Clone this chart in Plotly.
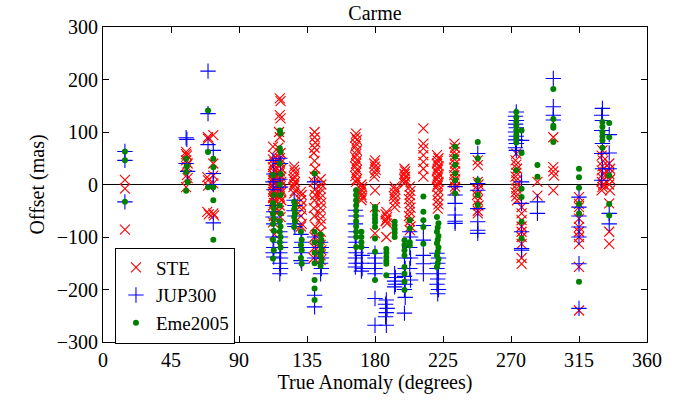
import plotly.graph_objects as go

# STE: true anomaly (deg) and offset (mas)
ste_x = [
    14.5, 14.5, 14.5,
    55, 55, 55.5, 55, 56, 55, 55.5, 56, 55,
    69.5, 69.5, 69, 69.5, 69.5, 69, 70, 73, 73, 73, 73, 73.5, 73,
    112.5, 113, 112.5, 113.5, 113, 112.5, 114, 113, 112.5, 113.5, 113, 112.5, 114, 113, 112.5, 113.5,
    113, 112.5, 114, 113, 112.5, 113.5, 113, 112.5, 114, 113, 112.5, 113.5,
    117, 117.5, 117, 117.5, 116.5, 117, 116, 117.5, 117, 116.5, 117, 118, 117, 116.5, 117.5, 117,
    118, 116.5, 117, 117.5, 118, 116.5, 117, 118, 117, 116.5, 117.5,
    126.5, 126.5, 127, 126.5, 126, 127, 126.5, 126, 127, 126.5,
    131, 131.5, 131, 131, 131.5, 131, 131.5, 131,
    140, 140, 140.5, 140, 139.5, 140, 140.5, 140, 139.5, 140, 140.5, 140, 139.5, 140, 140.5, 140, 140, 139.5,
    144, 144.5, 144, 143.5, 144, 144.5, 144, 143.5, 144, 144.5, 144, 143.5, 144, 144.5, 144, 144,
    167.5, 167, 168, 167.5, 167, 168, 167.5, 167, 168, 167.5, 167, 168, 167.5, 167, 168, 167.5,
    171, 171.5, 171, 170.5, 171, 171.5, 171,
    180, 179.5, 180, 180.5, 180, 179.5, 180, 180, 180,
    187.5, 187, 188, 187.5, 187, 188, 187.5,
    193, 193.5, 193, 192.5, 193, 193.5, 193,
    199.5, 200, 199.5, 200, 199.5, 200, 199.5,
    203, 203.5, 203, 202.5, 203, 203.5, 203, 202.5, 203, 203.5, 203,
    212, 212, 212, 212, 212, 212, 212,
    221, 222, 221.5, 221, 222, 221.5, 221, 222, 221.5, 221, 222, 221.5, 221, 222, 221.5, 221.5, 222, 221.5,
    232.5, 233, 232.5, 233, 232.5, 233, 232.5, 233, 232.5, 233, 232.5, 233, 232.5,
    248, 248, 248, 248.5, 248, 247.5, 248, 248.5, 248, 248,
    273.5, 273, 273.5, 274, 273.5, 273, 273.5, 274, 273.5, 273, 273.5, 274,
    277, 277, 277, 277, 277, 277, 277, 277, 277,
    287.5, 287.5,
    298, 298, 298, 298.5, 298,
    315, 315, 315, 315, 315, 315, 315, 315, 315, 315,
    330.5, 330, 331, 330.5, 330, 331, 330.5, 330, 331, 330.5, 330,
    335, 335.5, 335, 335.5, 335, 335.5, 335, 335, 335,
]
ste_y = [
    9, -8, -86,
    62, 58, 55, 46, 40, 35, 18, 12, -5,
    90, 87, 14, -2, 8, -52, -57, 94, 40, 17, 2, -59, -55,
    72, 55, 48, 42, 38, 33, 28, 25, 20, 15, 12, 8, 5, 2, -2, -6,
    -10, -14, -18, -22, -26, -30, -35, -40, -50, -60, -72, -95,
    164, 159, 132, 126, 100, 90, 70, 60, 50, 45, 40, 30, 25, 20, 15, 10,
    5, 0, -5, -10, -15, -20, -25, -30, -40, -50, -62,
    34, 28, 22, 15, 10, 5, 0, -5, -12, -17,
    -14, -20, -30, -40, -48, -60, -75, -80,
    100, 90, 80, 70, 60, 45, 30, 15, 5, -10, -20, -30, -45, -60, -80, -100, -120, -140,
    10, 0, -8, -16, -25, -35, -45, -55, -65, -75, -90, -105, -115, -125, -135, -144,
    97, 90, 85, 78, 72, 65, 58, 52, 46, 40, 34, 28, 22, 16, 10, 5,
    0, -5, -10, -15, -20, -25, -30,
    46, 40, 34, 28, 22, 15, -11, -43, -93,
    -52, -57, -62, -67, -70, -74, -100,
    -4, -10, -16, -22, -28, -35, -43,
    30, 25, 20, 15, 10, 5, 2,
    -4, -12, -20, -28, -36, -44, -52, -60, -70, -80, -87,
    107, 78, 69, 56, 43, 30, 15,
    56, 50, 45, 40, 35, 30, 25, 20, 15, 10, 5, 0, -4, -11, -20, -30, -38, -46,
    78, 70, 62, 55, 48, 40, 32, 25, 18, 10, 4, -4, -11,
    46, 37, 5, 0, -10, -20, -30, -40, -50, -55,
    59, 46, 38, 30, 22, 15, 8, 0, -8, -15, -22, -30,
    -43, -55, -68, -80, -90, -100, -113, -140, -151,
    5, -21,
    90, 33, 25, 17, -11,
    -24, -37, -43, -65, -81, -90, -100, -113, -157, -240,
    65, 55, 45, 35, 27, 20, 12, 5, 0, -5, -11,
    40, 30, 20, 10, 0, -11, -36, -90, -113,
]

# JUP300
jup_x = [
    14.5, 14.5, 14.5,
    55, 55.5, 55, 56,
    69.5, 69.5, 69.5, 73, 73, 73, 73,
    112.5, 113, 112.5, 113, 112.5, 113, 112.5, 113, 112.5, 113, 112.5, 113,
    117, 117.5, 117, 117.5, 117, 117.5, 117, 117.5, 117, 117.5, 117, 117.5, 117,
    126.5, 127, 126.5, 127, 126.5, 127,
    131, 131.5, 131, 131.5, 131, 131.5,
    140, 140, 140.5, 140, 140, 140,
    144, 144.5, 144, 144.5, 144, 144.5, 144,
    167, 167.5, 167, 167.5, 167, 167.5, 167, 167.5, 167, 167.5, 167,
    171, 171.5, 171, 171.5, 171,
    180, 180, 180, 180, 180, 180, 180,
    187.5, 187, 188, 187.5, 187, 187.5,
    193, 193.5, 193, 193.5, 193,
    199.5, 200, 199.5, 200, 199.5, 200, 199.5,
    203, 203.5, 203, 203.5, 203, 203.5,
    212, 212, 212, 212, 212,
    221, 222, 221.5, 221, 222, 221.5, 221, 222, 221.5,
    233, 233, 233, 233, 233, 233,
    248, 248, 248, 248, 248, 248, 248,
    273.5, 273, 273.5, 273, 273.5, 273, 273.5, 273, 273.5, 273, 273.5,
    277, 277, 277, 277, 277, 277,
    287.5, 287.5,
    298, 298, 298, 298,
    315, 315, 315, 315, 315, 315, 315,
    330.5, 330, 330.5, 330, 330.5, 330, 330.5, 330,
    335, 335, 335, 335, 335,
]
jup_y = [
    63, 46, -33,
    89, 86, 40, 25,
    216, 135, 76, 65, 21, 0, -73,
    46, 20, 5, -10, -40, -52, -62, -75, -100, -120, -130, -138,
    50, 40, 10, -5, -90, -100, -110, -120, -130, -140, -150, -160, -170,
    -30, -40, -50, -60, -75, -80,
    -95, -110, -120, -130, -145, -150,
    5, -100, -120, -140, -211, -233,
    -110, -120, -130, -140, -150, -160, -170,
    -49, -60, -75, -90, -100, -110, -120, -130, -140, -150, -157,
    -120, -135, -150, -160, -165,
    -131, -140, -150, -160, -170, -217, -268,
    -220, -228, -236, -244, -252, -268,
    -170, -177, -184, -190, -195,
    -140, -160, -175, -190, -200, -215, -245,
    -90, -100, -120, -140, -160, -182,
    -78, -106, -135, -151, -170,
    -131, -140, -150, -160, -170, -180, -190, -200, -208,
    -4, -20, -36, -58, -70, -74,
    59, 2, -11, -46, -71, -87, -93,
    138, 130, 122, 115, 108, 100, 92, 85, 78, 70, 65,
    84, 5, -36, -90, -122, -125,
    -33, -55,
    202, 148, 132, 123,
    -24, -43, -81, -100, -151, -236, -60,
    145, 132, 122, 103, 78, 59, 30, 8,
    95, 60, 30, -55, -75,
]

# Eme2005
eme_x = [
    14.5, 14.5, 14.5,
    55, 55.5, 55, 56, 55,
    69.5, 69.5, 69.5, 73, 73, 73, 73, 73,
    112.5, 113, 112.5, 113, 112.5, 113, 112.5, 113, 112.5, 113, 112.5,
    117, 117.5, 117, 117.5, 117, 117.5, 117, 117.5, 117, 117.5, 117, 117.5, 117, 117.5, 117, 117.5,
    126.5, 127, 126.5, 127, 126.5, 127, 126.5,
    131, 131.5, 131, 131.5, 131, 131.5,
    140, 140, 140, 140, 140, 140, 140, 140,
    144, 144.5, 144, 144.5, 144, 144.5, 144,
    167.5, 167.5, 167.5, 167.5, 167.5, 167.5, 167.5, 167.5, 167.5, 167.5, 167.5,
    171, 171, 171, 171,
    180, 180, 180, 180, 180, 180, 180, 180, 180,
    187.5, 187.5, 187.5, 187.5, 187.5, 187.5,
    193, 193, 193, 193, 193,
    199.5, 199.5, 199.5, 199.5, 199.5, 199.5, 199.5, 199.5,
    203, 203, 203, 203,
    212, 212, 212, 212, 212,
    221, 222, 221.5, 221, 222, 221.5, 221, 222, 221.5, 221, 222, 221.5, 221,
    233, 233, 233, 233, 233, 233,
    248, 248, 248, 248, 248,
    273.5, 273.5, 273.5, 273.5, 273.5, 273.5, 273.5, 273.5, 273.5,
    277, 277, 277, 277, 277, 277,
    287.5, 287.5,
    298, 298, 298, 298, 298,
    315, 315, 315, 315, 315, 315,
    330.5, 330.5, 330.5, 330.5, 330.5, 330.5,
    335, 335, 335, 335, 335,
]
eme_y = [
    63, 46, -33,
    49, 35, 24, 5, -12,
    141, 62, -5, 49, 33, -5, -30, -105,
    18, -20, -35, -45, -55, -65, -75, -88, -105, -125, -141,
    103, 97, 69, 62, 40, 20, 0, -20, -40, -55, -70, -80, -90, -100, -110, -120,
    -33, -40, -47, -55, -62, -70, -81,
    -90, -105, -115, -125, -140, -151,
    21, -90, -110, -130, -182, -198, -220, -150,
    -95, -105, -115, -125, -135, -145, -155,
    -11, -20, -30, -40, -50, -60, -70, -80, -90, -100, -119,
    -90, -100, -110, -119,
    -43, -50, -58, -65, -72, -81, -103, -128, -182,
    -123, -130, -138, -145, -151, -173,
    -71, -78, -85, -92, -100,
    -106, -115, -125, -135, -157, -170, -185, -201,
    -68, -84, -110, -116,
    -23, -52, -68, -81, -113,
    -62, -74, -82, -90, -98, -105, -112, -120, -128, -135, -142, -150, -157,
    72, 53, 37, 21, 8, -17,
    81, 50, 8, -20, -39,
    138, 128, 120, 112, 103, 95, 88, 80, 27,
    103, -8, -24, -71, -103, 60,
    37, 15,
    182, 125, 112, 108, 81,
    30, 14, -6, -37, -55, -185,
    119, 110, 100, 92, 84, 70,
    117, 90, 17, -37, -59,
]

serif = "Times New Roman, Liberation Serif, DejaVu Serif, serif"
font = dict(family=serif, size=20, color="black")

fig = go.Figure()
fig.add_trace(go.Scatter(
    x=ste_x, y=ste_y, mode="markers", name="STE",
    marker=dict(symbol="x-thin", size=10, line=dict(width=1.1, color="red"), color="red")
))
fig.add_trace(go.Scatter(
    x=jup_x, y=jup_y, mode="markers", name="JUP300",
    marker=dict(symbol="cross-thin", size=11, line=dict(width=1.1, color="blue"), color="blue")
))
fig.add_trace(go.Scatter(
    x=eme_x, y=eme_y, mode="markers", name="Eme2005",
    marker=dict(symbol="circle", size=6, color="green", line=dict(width=0))
))

axis_common = dict(
    showgrid=False, showline=True, linecolor="black", linewidth=1,
    mirror="ticks", ticks="inside", ticklen=6, tickcolor="black",
    tickfont=font, automargin=False,
)

fig.update_layout(
    width=691, height=401,
    margin=dict(l=103, r=44, t=27, b=59),
    paper_bgcolor="white", plot_bgcolor="white",
    font=font,
    title=dict(text="Carme", x=0.5, xref="paper", xanchor="center",
               y=0.968, yref="container", yanchor="middle", pad=dict(t=0, b=0), font=font),
    xaxis=dict(range=[0, 360], tickvals=[0, 45, 90, 135, 180, 225, 270, 315, 360],
               title=dict(text="True Anomaly (degrees)", font=font, standoff=2),
               zeroline=False, **axis_common),
    yaxis=dict(range=[-300, 300], tickvals=[-300, -200, -100, 0, 100, 200, 300],
               title=dict(text="Offset (mas)", font=font, standoff=6),
               zeroline=True, zerolinecolor="black", zerolinewidth=1, **axis_common),
    legend=dict(x=0.022, y=0.30, xanchor="left", yanchor="top",
                bgcolor="white", bordercolor="black", borderwidth=1,
                font=dict(family=serif, size=19, color="black"), tracegroupgap=0),
    showlegend=True,
)

# drop the default page margin so the figure sits at the window's corner
fig.write_html("out.html", config={"displayModeBar": False},
               post_script="document.body.style.margin = '0';")
